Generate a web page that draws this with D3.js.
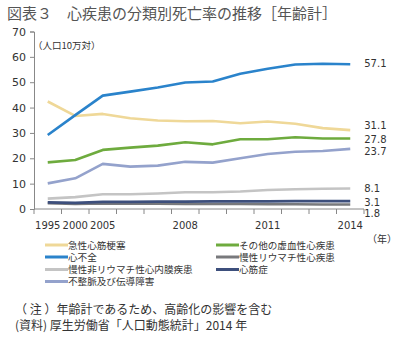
<!DOCTYPE html>
<html>
<head>
<meta charset="utf-8">
<script src="https://cdn.jsdelivr.net/npm/d3@7"></script>
<style>
  body { margin: 0; background: #fff; }
  svg text { font-family: "DejaVu Sans", sans-serif; }
  .jp { font-family: "Noto Sans CJK JP", sans-serif; }
  .lg { font-family: "Liberation Sans", "Noto Sans CJK JP", sans-serif; }
</style>
</head>
<body>
<svg width="398" height="342"></svg>
<script>
(() => {
const years = ['1995', '2000', '2005', '2006', '2007', '2008', '2009', '2010', '2011', '2012', '2013', '2014'];
const yearLabels = ['1995', '2000', '2005', '2008', '2011', '2014'];
const yTicks = [0, 10, 20, 30, 40, 50, 60, 70];

const acuteMI     = [42.4, 36.7, 37.5, 35.8, 34.9, 34.6, 34.7, 33.8, 34.5, 33.6, 31.9, 31.1];
const heartFail   = [29.2, 37.0, 44.7, 46.3, 47.9, 49.9, 50.3, 53.3, 55.3, 57.0, 57.3, 57.1];
const otherIsch   = [18.4, 19.3, 23.3, 24.2, 25.0, 26.3, 25.5, 27.5, 27.5, 28.3, 27.8, 27.8];
const arrhythmia  = [10.1, 12.1, 17.8, 16.7, 17.1, 18.6, 18.3, 20.0, 21.7, 22.6, 22.9, 23.7];
const valvular    = [4.1, 4.7, 5.8, 5.8, 6.1, 6.6, 6.6, 6.9, 7.5, 7.8, 8.0, 8.1];
const cardiomyo   = [2.6, 2.4, 2.8, 2.8, 2.9, 2.9, 3.0, 3.0, 3.0, 3.1, 3.1, 3.1];
const rheumatic   = [2.3, 2.0, 2.2, 2.1, 2.1, 2.0, 2.0, 2.0, 1.9, 1.9, 1.8, 1.8];

// draw order: light/thin first, main ones on top
const series = [
  { name: '慢性非リウマチ性心内膜疾患', values: valvular, color: '#c4c4c4', dy: 0 },
  { name: '慢性リウマチ性心疾患', values: rheumatic, color: '#78797c', dy: 9 },
  { name: '心筋症', values: cardiomyo, color: '#3d4f7c', dy: 1 },
  { name: '不整脈及び伝導障害', values: arrhythmia, color: '#94a2cc', dy: 2 },
  { name: 'その他の虚血性心疾患', values: otherIsch, color: '#6eab3e', dy: 0 },
  { name: '急性心筋梗塞', values: acuteMI, color: '#efd898', dy: -5 },
  { name: '心不全', values: heartFail, color: '#2a83cb', dy: -1 }
];

const legendCols = [
  ['急性心筋梗塞', '心不全', '慢性非リウマチ性心内膜疾患', '不整脈及び伝導障害'],
  ['その他の虚血性心疾患', '慢性リウマチ性心疾患', '心筋症']
];

const svg = d3.select('svg');
const mLeft = 34, mRight = 364, mTop = 31.5, mBottom = 209;

const x = d3.scaleBand().domain(years).range([mLeft, mRight]);
const y = d3.scaleLinear().domain([0, 70]).range([mBottom, mTop]);
const cx = d => x(d) + x.bandwidth() / 2;

// title
svg.append('text')
    .attr('class', 'jp')
    .attr('x', 7).attr('y', 19)
    .attr('font-size', 15)
    .attr('fill', '#555')
    .text('図表３　心疾患の分類別死亡率の推移［年齢計］');

// y axis
const yAxis = svg.append('g')
    .attr('transform', `translate(${mLeft},0)`)
    .call(d3.axisLeft(y).tickValues(yTicks).tickSize(4).tickPadding(4));
yAxis.select('.domain').attr('stroke', '#888');
yAxis.selectAll('.tick line').attr('stroke', '#888');
yAxis.selectAll('.tick text').attr('font-size', 11).attr('fill', '#333')
    .style('font-family', '"DejaVu Sans", sans-serif');

svg.append('text')
    .attr('class', 'jp')
    .attr('x', 33).attr('y', 49)
    .attr('font-size', 9.5)
    .attr('fill', '#333')
    .text('（人口10万対）');

// x axis
const xAxis = svg.append('g')
    .attr('transform', `translate(0,${mBottom})`);
xAxis.append('line')
    .attr('x1', mLeft).attr('x2', mRight)
    .attr('stroke', '#888');
xAxis.selectAll('line.tk')
    .data(years.concat(['end']))
    .enter().append('line')
    .attr('class', 'tk')
    .attr('x1', (d, i) => i < years.length ? x(d) : mRight)
    .attr('x2', (d, i) => i < years.length ? x(d) : mRight)
    .attr('y1', 0).attr('y2', 5)
    .attr('stroke', '#888');
xAxis.selectAll('text')
    .data(yearLabels)
    .enter().append('text')
    .attr('x', d => cx(d))
    .attr('y', 20)
    .attr('text-anchor', 'middle')
    .attr('font-size', 10)
    .attr('fill', '#333')
    .text(d => d);

svg.append('text')
    .attr('class', 'jp')
    .attr('x', 367).attr('y', 243)
    .attr('font-size', 10)
    .attr('fill', '#333')
    .text('（年）');

// lines
const line = d3.line()
    .x((d, i) => cx(years[i]))
    .y(d => y(d));

svg.append('g')
    .selectAll('path')
    .data(series)
    .enter().append('path')
    .attr('d', d => line(d.values))
    .attr('fill', 'none')
    .attr('stroke', d => d.color)
    .attr('stroke-width', 2.6)
    .attr('stroke-linejoin', 'round');

// end labels
const lastYear = years[years.length - 1];
svg.append('g')
    .selectAll('text')
    .data(series)
    .enter().append('text')
    .attr('x', cx(lastYear) + 14)
    .attr('y', d => y(d.values[d.values.length - 1]) + d.dy + 4)
    .attr('font-size', 10)
    .attr('fill', '#333')
    .text(d => d.values[d.values.length - 1].toFixed(1));

// legend
const colorOf = name => series.find(s => s.name === name).color;
const legendX = [45, 216];
const rowY = [245, 257, 269.5, 281.5];
legendCols.forEach((col, ci) => {
    const g = svg.append('g');
    const items = g.selectAll('g')
        .data(col)
        .enter().append('g')
        .attr('transform', (d, i) => `translate(${legendX[ci]},${rowY[i]})`);
    items.append('line')
        .attr('x1', 0).attr('x2', 23)
        .attr('stroke', d => colorOf(d))
        .attr('stroke-width', 3);
    items.append('text')
        .attr('class', 'lg')
        .attr('x', 23).attr('y', 3.5)
        .attr('font-size', 9.6)
        .attr('fill', '#333')
        .text(d => d);
});

// notes
const notes = ['（ 注 ）年齢計であるため、高齢化の影響を含む', '(資料) 厚生労働省「人口動態統計」2014 年'];
svg.append('g')
    .selectAll('text')
    .data(notes)
    .enter().append('text')
    .attr('class', 'jp')
    .attr('x', 15)
    .attr('y', (d, i) => 314 + i * 16)
    .attr('font-size', 12)
    .attr('fill', '#333')
    .text(d => d);
})();
</script>
</body>
</html>
